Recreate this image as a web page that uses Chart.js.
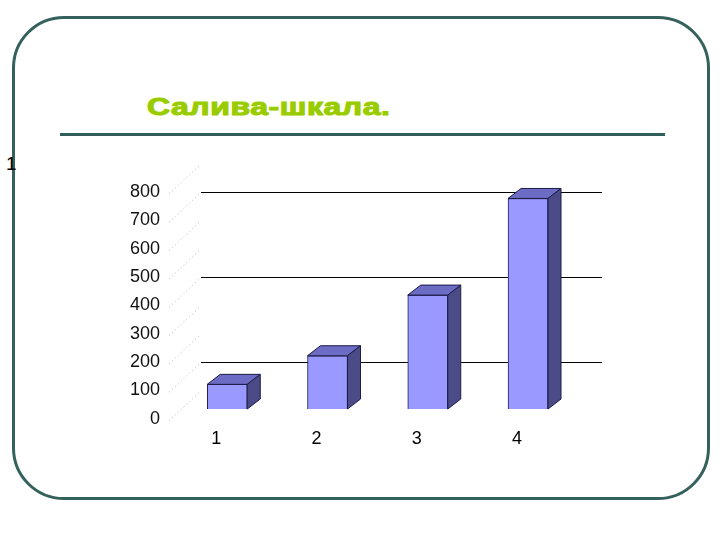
<!DOCTYPE html>
<html>
<head>
<meta charset="utf-8">
<script src="https://cdn.jsdelivr.net/npm/chart.js@4/dist/chart.umd.min.js"></script>
<style>
  html, body { margin: 0; padding: 0; background: #fff; }
  #wrap { position: relative; width: 720px; height: 540px; overflow: hidden; }
  #frame { position: absolute; left: 12px; top: 16px; width: 692px; height: 478px;
           border: 3px solid #35615c; border-radius: 52px; }
  #title { position: absolute; left: 147px; top: 96px; font: bold 23px "Liberation Sans", Arial, sans-serif;
           line-height: 1; color: #99cc00; letter-spacing: 0.4px; white-space: nowrap;
           -webkit-text-stroke: 1px #99cc00; text-shadow: 0 0 3px #f4ffc0;
           transform: scaleX(1.39); transform-origin: 0 0; }
  #rule { position: absolute; left: 60px; top: 133px; width: 605px; height: 3px; background: #2e5e5a; }
  #num { position: absolute; left: 6px; top: 154px; font: 19px "Liberation Sans", Arial, sans-serif;
         line-height: 1; color: #000; }
  #chartBox { position: absolute; left: 0; top: 0; width: 720px; height: 540px; }
</style>
</head>
<body>
<div id="wrap">
  <div id="frame"></div>
  <div id="title">Салива-шкала.</div>
  <div id="rule"></div>
  <div id="num">1</div>
  <div id="chartBox"><canvas id="saliva"></canvas></div>
</div>
<script>
// data
const categories = [1, 2, 3, 4];
const categoryLabels = ["1", "2", "3", "4"];
const values = [87, 188, 402, 743];
const yTicks = [0, 100, 200, 300, 400, 500, 600, 700, 800];
const gridValues = [200, 500, 800];

const DX = 13, DY = -10;

// draws top and side faces so the bars look like the old 3D boxes
const boxFaces = {
  id: "boxFaces",
  afterDatasetsDraw(chart) {
    const ctx = chart.ctx;
    const meta = chart.getDatasetMeta(0);
    ctx.save();
    ctx.lineWidth = 1;
    ctx.strokeStyle = "#1c1c4a";
    meta.data.forEach(bar => {
      const { x, y, base, width } = bar.getProps(["x", "y", "base", "width"], true);
      const l = x - width / 2, r = x + width / 2;
      // top
      ctx.fillStyle = "#6c6cc4";
      ctx.beginPath();
      ctx.moveTo(l, y); ctx.lineTo(l + DX, y + DY); ctx.lineTo(r + DX, y + DY); ctx.lineTo(r, y);
      ctx.closePath(); ctx.fill(); ctx.stroke();
      // side
      ctx.fillStyle = "#4b4b88";
      ctx.beginPath();
      ctx.moveTo(r, y); ctx.lineTo(r + DX, y + DY); ctx.lineTo(r + DX, base + DY); ctx.lineTo(r, base);
      ctx.closePath(); ctx.fill(); ctx.stroke();
    });
    ctx.restore();
  }
};

// faint dotted wall edges next to the value labels
const wallDots = {
  id: "wallDots",
  beforeDatasetsDraw(chart) {
    const ctx = chart.ctx;
    const s = chart.scales.y2;
    const left = chart.chartArea.left;
    ctx.save();
    ctx.strokeStyle = "rgba(120,120,120,0.55)";
    ctx.lineWidth = 1;
    ctx.setLineDash([1, 3]);
    yTicks.forEach(v => {
      const py = s.getPixelForValue(v);
      ctx.beginPath();
      ctx.moveTo(left - 32, py + 2);
      ctx.lineTo(left - 2, py - 26);
      ctx.stroke();
    });
    ctx.restore();
  }
};

new Chart(document.getElementById("saliva"), {
  type: "bar",
  data: {
    datasets: [{
      data: categories.map((c, i) => ({ x: c, y: values[i] })),
      backgroundColor: "#9999ff",
      borderColor: "#1c1c4a",
      borderWidth: 1,
      barThickness: 40,
      clip: false
    }]
  },
  options: {
    responsive: true,
    maintainAspectRatio: false,
    animation: false,
    layout: { padding: { left: 121, right: 118, top: 192, bottom: 81.3 } },
    plugins: { legend: { display: false }, tooltip: { enabled: false } },
    scales: {
      x: {
        type: "linear",
        offset: false,
        min: 0.738,
        max: 4.738,
        afterBuildTicks: s => { s.ticks = categories.map(v => ({ value: v })); },
        afterFit: s => { s.height = 40; },
        grid: { display: false, offset: false },
        border: { display: false },
        ticks: {
          labelOffset: -11,
          padding: 2,
          color: "#000",
          font: { family: "Liberation Sans", size: 18 },
          callback: v => categoryLabels[categories.indexOf(v)]
        }
      },
      y: {
        display: false,
        min: -34.2,
        max: 765.8
      },
      y2: {
        position: "left",
        min: 0,
        max: 800,
        afterBuildTicks: s => { s.ticks = yTicks.map(v => ({ value: v })); },
        afterFit: s => { s.width = 80; },
        border: { display: false },
        grid: {
          drawTicks: false,
          color: c => gridValues.includes(c.tick.value) ? "#000" : "rgba(0,0,0,0)",
          lineWidth: 1
        },
        ticks: {
          padding: 41,
          color: "#111",
          font: { family: "Liberation Sans", size: 18 }
        }
      }
    }
  },
  plugins: [wallDots, boxFaces]
});
</script>
</body>
</html>
